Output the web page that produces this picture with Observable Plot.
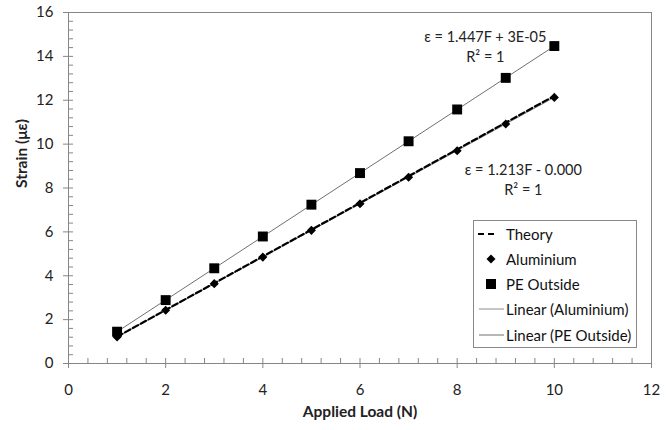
<!DOCTYPE html>
<html>
<head>
<meta charset="utf-8">
<script src="https://cdn.jsdelivr.net/npm/d3@7"></script>
<script src="https://cdn.jsdelivr.net/npm/@observablehq/plot@0.6"></script>
<style>
  body { margin: 0; background: #fff; }
  #wrap { position: relative; width: 672px; height: 430px; font-family: Lato, "Open Sans", sans-serif; }
  #legend { position: absolute; left: 473px; top: 220px; width: 162px; height: 126px; border: 1px solid #888; background: #fff; font-size: 15px; color: #111; }
  .row { position: absolute; left: 0; height: 20px; display: flex; align-items: center; }
  .row svg { width: 32px; height: 20px; }
  .row span { margin-left: 0px; white-space: nowrap; }
</style>
</head>
<body>
<div id="wrap"></div>
<script>
const load = [1, 2, 3, 4, 5, 6, 7, 8, 9, 10];
const theory = [1.22, 2.44, 3.66, 4.88, 6.10, 7.32, 8.54, 9.76, 10.98, 12.20];
const aluminium = [1.21, 2.43, 3.64, 4.85, 6.07, 7.28, 8.49, 9.70, 10.92, 12.13];
const peOutside = [1.45, 2.89, 4.34, 5.79, 7.24, 8.68, 10.13, 11.58, 13.02, 14.47];
const xTicks = [0, 2, 4, 6, 8, 10, 12];
const yTicks = [0, 2, 4, 6, 8, 10, 12, 14, 16];
const xMinor = d3.range(0, 31).map(i => +(i * 0.4).toFixed(1));
const yMinor = d3.range(0, 41).map(i => +(i * 0.4).toFixed(1));
const eqPE = ["ε = 1.447F + 3E-05", "R² = 1"];
const eqAl = ["ε = 1.213F - 0.000", "R² = 1"];
const xTitle = "Applied Load (N)";
const yTitle = "Strain (με)";

const rows = load.map((x, i) => ({x, theory: theory[i], al: aluminium[i], pe: peOutside[i]}));
const last = rows[rows.length - 1];
const axisColor = "#868686";

const chart = Plot.plot({
  width: 672, height: 430,
  marginLeft: 68, marginRight: 21, marginTop: 12, marginBottom: 67,
  style: {fontFamily: "Lato, 'Open Sans', sans-serif", fontSize: "15px", color: "#222", background: "#fff"},
  x: {domain: [0, 12]},
  y: {domain: [0, 16]},
  marks: [
    Plot.frame({stroke: axisColor}),
    Plot.axisY({ticks: yMinor, tickSize: 5, dx: 5, text: null, stroke: axisColor, label: null}),
    Plot.axisX({ticks: xMinor, tickSize: 5, dy: -5, text: null, stroke: axisColor, label: null}),
    Plot.axisY({ticks: yTicks, tickSize: 5, tickPadding: 10, stroke: axisColor, label: null, fontSize: 15}),
    Plot.axisX({ticks: xTicks, tickSize: 5, tickPadding: 16, stroke: axisColor, label: null, fontSize: 15}),
    Plot.ruleY([0], {stroke: axisColor}),
    Plot.ruleX([0], {stroke: axisColor}),
    Plot.linearRegressionY(rows, {x: "x", y: "al", ci: 0, stroke: "#8c8c8c", strokeWidth: 1}),
    Plot.linearRegressionY(rows, {x: "x", y: "pe", ci: 0, stroke: "#707070", strokeWidth: 1}),
    Plot.line(rows, {x: "x", y: "theory", stroke: "#000", strokeWidth: 2.2, strokeDasharray: "6,3"}),
    Plot.dot(rows, {x: "x", y: "al", symbol: "diamond2", r: 4.1, fill: "#000", stroke: "none"}),
    Plot.dot(rows, {x: "x", y: "pe", symbol: "square", r: 5.6, fill: "#000", stroke: "none"}),
    Plot.text([last], {x: "x", y: "pe", text: () => eqPE[0], dx: -69, dy: -9, fontSize: 14.5, fill: "#222"}),
    Plot.text([last], {x: "x", y: "pe", text: () => eqPE[1], dx: -69, dy: 11, fontSize: 14.5, fill: "#222"}),
    Plot.text([last], {x: "x", y: "al", text: () => eqAl[0], dx: -31, dy: 73, fontSize: 14.5, fill: "#222"}),
    Plot.text([last], {x: "x", y: "al", text: () => eqAl[1], dx: -31, dy: 93, fontSize: 14.5, fill: "#222"}),
    Plot.text([xTitle], {frameAnchor: "bottom", dy: 53, text: d => d, fontWeight: "bold", fontSize: 15.5, fill: "#222"}),
    Plot.text([yTitle], {frameAnchor: "left", dx: -46, rotate: -90, text: d => d, fontWeight: "bold", fontSize: 15.5, fill: "#222"})
  ]
});
const wrap = document.getElementById("wrap");
wrap.appendChild(chart);

// legend
const legendItems = [
  {label: "Theory", kind: "dash"},
  {label: "Aluminium", kind: "diamond"},
  {label: "PE Outside", kind: "square"},
  {label: "Linear (Aluminium)", kind: "lineAl"},
  {label: "Linear (PE Outside)", kind: "linePE"}
];
const leg = document.createElement("div");
leg.id = "legend";
const tops = [3, 28, 53, 78, 104];
legendItems.forEach((it, i) => {
  const row = document.createElement("div");
  row.className = "row";
  row.style.top = tops[i] + "px";
  let sym = "";
  if (it.kind === "dash") sym = '<line x1="4" x2="22" y1="10" y2="10" stroke="#000" stroke-width="2.2" stroke-dasharray="6,4"/>';
  if (it.kind === "diamond") sym = '<path d="M17,5.5 L21.5,10 L17,14.5 L12.5,10Z" fill="#000"/>';
  if (it.kind === "square") sym = '<rect x="12" y="5" width="10" height="10" fill="#000"/>';
  if (it.kind === "lineAl") sym = '<line x1="5" x2="30" y1="10" y2="10" stroke="#8c8c8c" stroke-width="1"/>';
  if (it.kind === "linePE") sym = '<line x1="5" x2="30" y1="10" y2="10" stroke="#707070" stroke-width="1"/>';
  row.innerHTML = '<svg viewBox="0 0 32 20">' + sym + '</svg><span>' + it.label + '</span>';
  leg.appendChild(row);
});
wrap.appendChild(leg);
</script>
</body>
</html>
